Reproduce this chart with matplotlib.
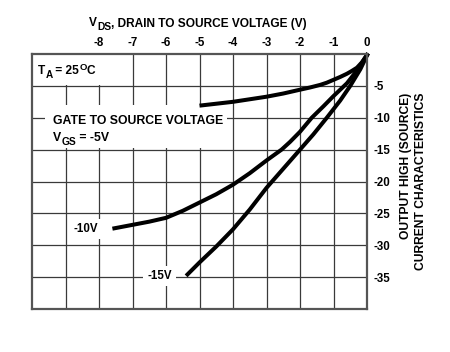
import matplotlib
matplotlib.use("Agg")
import matplotlib.pyplot as plt

plt.rcParams['font.family'] = ['Liberation Sans', 'DejaVu Sans']
plt.rcParams['font.weight'] = 'bold'

# data
x_ticks = [-8, -7, -6, -5, -4, -3, -2, -1, 0]
y_ticks = [-5, -10, -15, -20, -25, -30, -35]

vds_5 = [-5.0, -4.5, -4.0, -3.5, -3.0, -2.5, -2.0, -1.7, -1.4, -1.2, -1.0, -0.8, -0.6, -0.45, -0.3, -0.15, 0.03]
id_5 = [-8.1, -7.8, -7.5, -7.1, -6.7, -6.2, -5.6, -5.25, -4.85, -4.5, -4.05, -3.6, -3.1, -2.65, -2.15, -1.3, 0.1]

vds_10 = [-7.6, -7.0, -6.5, -6.0, -5.5, -5.0, -4.5, -4.0, -3.5, -3.0, -2.55, -2.3, -2.0, -1.65, -1.3, -1.0, -0.6, -0.3, 0.03]
id_10 = [-27.4, -26.8, -26.3, -25.7, -24.6, -23.3, -22.0, -20.5, -18.7, -16.7, -15.0, -13.8, -12.2, -10.0, -8.2, -6.6, -4.6, -2.6, 0.1]

vds_15 = [-5.4, -5.0, -4.5, -4.0, -3.5, -3.0, -2.5, -2.0, -1.6, -1.2, -0.8, -0.5, -0.2, 0.03]
id_15 = [-34.8, -32.7, -30.2, -27.5, -24.4, -21.0, -18.0, -15.0, -12.6, -10.0, -7.3, -5.0, -2.4, 0.1]

W, H = 450, 352
fig = plt.figure(figsize=(W/100, H/100), dpi=100)
renderer = fig.canvas.get_renderer()
ax = fig.add_axes([32/W, 1-309/H, (367-32)/W, (309-54)/H])
ax.set_xlim(-10, 0)
ax.set_ylim(-40, 0)

grid_c = '#3a3a3a'
for xv in range(-9, 0):
    ax.axvline(xv, color=grid_c, lw=0.9, zorder=1)
for yv in range(-35, 0, 5):
    ax.axhline(yv, color=grid_c, lw=0.9, zorder=1)
for s in ax.spines.values():
    s.set_color('#555555')
    s.set_linewidth(1.6)
    s.set_zorder(5)

ax.xaxis.tick_top()
ax.set_xticks(x_ticks)
ax.set_xticklabels([str(v) for v in x_ticks])
ax.yaxis.tick_right()
ax.set_yticks(y_ticks)
ax.set_yticklabels([str(v) for v in y_ticks])
ax.tick_params(length=0, labelsize=8.3)
ax.tick_params(axis='x', pad=3.5)
ax.tick_params(axis='y', pad=5)
for lab in ax.get_xticklabels() + ax.get_yticklabels():
    lab.set_fontweight('bold')

kw = dict(color='black', lw=2.9, solid_joinstyle='round', solid_capstyle='butt', zorder=4, clip_on=False)
ax.plot(vds_5, id_5, **kw)
ax.plot(vds_10, id_10, **kw)
ax.plot(vds_15, id_15, **kw)

# white boxes behind annotations
ax.add_patch(plt.Rectangle((-10, -4.85), 2.05, 4.85, facecolor='white', edgecolor='none', zorder=2))
ax.add_patch(plt.Rectangle((-9.62, -14.75), 5.45, 6.75, facecolor='white', edgecolor='none', zorder=2))


def rich(x_px, base_px, pieces):
    """Draw consecutive text pieces (text, size, baseline shift in px)."""
    x = x_px
    for s, size, dy in pieces:
        t = fig.text(x / W, 1 - (base_px + dy) / H, s, fontsize=size, fontweight='bold',
                     ha='left', va='baseline', zorder=6)
        x += t.get_window_extent(renderer).width


rich(89, 26.5, [("V", 8.6, 0), ("DS", 7.4, 3.5), (", DRAIN TO SOURCE VOLTAGE (V)", 8.6, 0)])
rich(38, 74.3, [("T", 8.6, 0), ("A", 7.2, 4), (" = 25", 8.6, 0), ("O", 6.8, -4), ("C", 8.6, 0)])
rich(53, 123.7, [("GATE TO SOURCE VOLTAGE", 8.8, 0)])
rich(53, 141.0, [("V", 8.8, 0), ("GS", 7.4, 4), (" = -5V", 8.8, 0)])

ax.text(-8.4, -27.4, "-10V", fontsize=8.3, fontweight='bold', ha='center', va='center',
        bbox=dict(facecolor='white', edgecolor='none', pad=3), zorder=3)
ax.text(-6.2, -34.8, "-15V", fontsize=8.3, fontweight='bold', ha='center', va='center',
        bbox=dict(facecolor='white', edgecolor='none', pad=3), zorder=3)

fig.text(406/W, 1-93/H, "OUTPUT HIGH (SOURCE)", fontsize=8.7, fontweight='bold',
         rotation=90, ha='center', va='top')
fig.text(421/W, 1-93/H, "CURRENT CHARACTERISTICS", fontsize=8.7, fontweight='bold',
         rotation=90, ha='center', va='top')

fig.savefig("out.png", dpi=100)
